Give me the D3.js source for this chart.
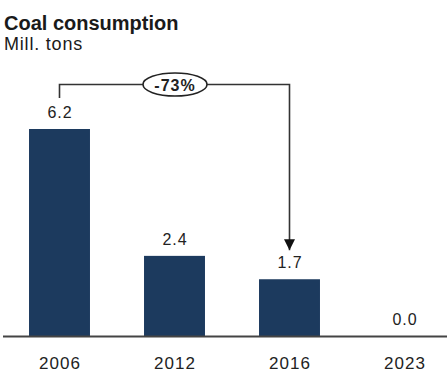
<!DOCTYPE html>
<html>
<head>
<meta charset="utf-8">
<script src="https://cdn.jsdelivr.net/npm/d3@7"></script>
<style>
    body { margin: 0; background: #fff; }
    svg { display: block; font-family: "Liberation Sans", Arial, sans-serif; }
</style>
</head>
<body>
<svg id="drawing_region"></svg>
<script>
// chart data
const years = ['2006', '2012', '2016', '2023'];
const consumption = [6.2, 2.4, 1.7, 0.0];
const changeLabel = '-73%';
const changeFrom = '2006';
const changeTo = '2016';

const config = {
    width: 447,
    height: 372,
    margin: { top: 129, right: 0, bottom: 36, left: 0 }
};

const svg = d3.select('#drawing_region')
    .attr('width', config.width)
    .attr('height', config.height);

const inner_height = config.height - config.margin.top - config.margin.bottom;

const xscale = d3.scaleBand()
    .domain(years)
    .range([2, 462])
    .paddingInner(0.47)
    .paddingOuter(0.235);

const yscale = d3.scaleLinear()
    .domain([0, d3.max(consumption)])
    .range([config.margin.top + inner_height, config.margin.top]);

const data = years.map((y, i) => ({ year: y, value: consumption[i] }));

// title
svg.append('text')
    .attr('x', 4)
    .attr('y', 30)
    .style('font-size', '20px')
    .style('font-weight', 'bold')
    .attr('fill', '#1a1a1a')
    .text('Coal consumption');

svg.append('text')
    .attr('x', 4)
    .attr('y', 50)
    .style('font-size', '18px')
    .style('letter-spacing', '0.8px')
    .attr('fill', '#1a1a1a')
    .text('Mill. tons');

// bars
svg.selectAll('rect.bar')
    .data(data)
    .enter()
    .append('rect')
    .attr('class', 'bar')
    .attr('x', d => xscale(d.year))
    .attr('y', d => yscale(d.value))
    .attr('width', xscale.bandwidth())
    .attr('height', d => yscale(0) - yscale(d.value))
    .attr('fill', '#1c3a5e');

// value labels
svg.selectAll('text.val')
    .data(data)
    .enter()
    .append('text')
    .attr('class', 'val')
    .attr('x', d => xscale(d.year) + xscale.bandwidth() / 2 + 0.5)
    .attr('y', d => yscale(d.value) - 11)
    .attr('text-anchor', 'middle')
    .style('font-size', '16px')
    .style('letter-spacing', '1px')
    .attr('fill', '#222')
    .text(d => d3.format('.1f')(d.value));

// baseline
svg.append('line')
    .attr('x1', 3)
    .attr('x2', config.width)
    .attr('y1', yscale(0) + 0.5)
    .attr('y2', yscale(0) + 0.5)
    .attr('stroke', '#444')
    .attr('stroke-width', 2);

// x axis labels
const xaxis = d3.axisBottom(xscale).tickSize(0).tickPadding(20);
const xaxis_group = svg.append('g')
    .attr('transform', `translate(0, ${yscale(0) + 1})`)
    .call(xaxis);
xaxis_group.select('.domain').remove();
xaxis_group.selectAll('text')
    .attr('dx', '0.5px')
    .style('font-size', '17px')
    .style('letter-spacing', '1px')
    .style('font-family', '"Liberation Sans", Arial, sans-serif')
    .attr('fill', '#222');

// change arrow
const x0 = xscale(changeFrom) + xscale.bandwidth() / 2;
const x1 = xscale(changeTo) + xscale.bandwidth() / 2;
const v0 = consumption[years.indexOf(changeFrom)];
const v1 = consumption[years.indexOf(changeTo)];
const topY = 84.5;

svg.append('defs').append('marker')
    .attr('id', 'arrow')
    .attr('viewBox', '0 0 10 10')
    .attr('refX', 10)
    .attr('refY', 5)
    .attr('markerWidth', 11)
    .attr('markerHeight', 13)
    .attr('markerUnits', 'userSpaceOnUse')
    .attr('orient', 'auto')
    .append('path')
    .attr('d', 'M0,0 L10,5 L0,10 Z')
    .attr('fill', '#111');

svg.append('path')
    .attr('d', `M${x0},${yscale(v0) - 31} V${topY} H${x1} V${yscale(v1) - 29}`)
    .attr('fill', 'none')
    .attr('stroke', '#333')
    .attr('stroke-width', 1.6)
    .attr('marker-end', 'url(#arrow)');

const cx = (x0 + x1) / 2 + 0.5;
svg.append('ellipse')
    .attr('cx', cx)
    .attr('cy', topY)
    .attr('rx', 32)
    .attr('ry', 11.5)
    .attr('fill', '#fff')
    .attr('stroke', '#222')
    .attr('stroke-width', 1.6);

svg.append('text')
    .attr('x', cx)
    .attr('y', topY + 6)
    .attr('text-anchor', 'middle')
    .style('font-size', '16px')
    .style('font-weight', 'bold')
    .style('letter-spacing', '1px')
    .attr('fill', '#222')
    .text(changeLabel);
</script>
</body>
</html>
